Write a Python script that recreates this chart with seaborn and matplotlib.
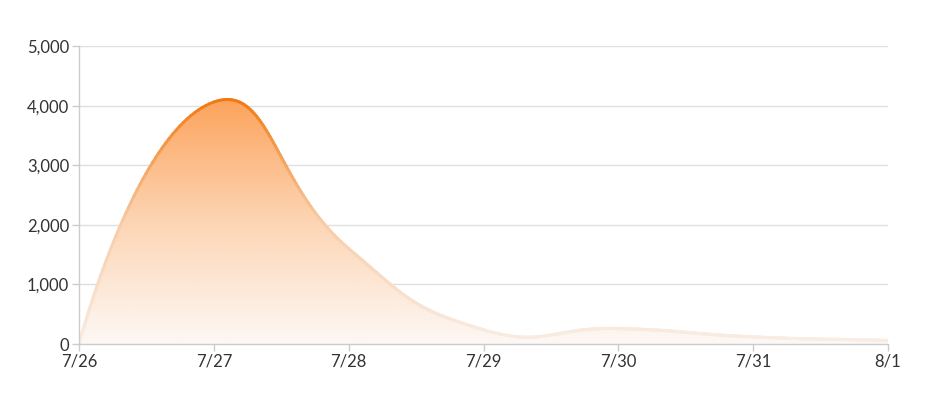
import numpy as np
import pandas as pd
import matplotlib
matplotlib.use("Agg")
import matplotlib.pyplot as plt
import seaborn as sns
from matplotlib.collections import LineCollection
from matplotlib.colors import LinearSegmentedColormap, Normalize
from matplotlib.ticker import FuncFormatter

# one value per day
day_labels = ["7/26", "7/27", "7/28", "7/29", "7/30", "7/31", "8/1"]
counts = [0, 4060, 1600, 240, 260, 120, 60]
y_ticks = [0, 1000, 2000, 3000, 4000, 5000]

Y_MAX = 5000
PX_PER_DAY = 134.8        # on-screen scale, used so the smoothing works in pixel space
PX_PER_UNIT = 298 / Y_MAX


def smooth_curve(values, smooth=0.5, n=60):
    # bezier smoothing in the style of echarts' smooth line
    px = np.arange(len(values)) * PX_PER_DAY
    py = np.asarray(values, float) * PX_PER_UNIT
    pts = np.column_stack([px, py])
    out = [pts[:1]]
    cp0 = pts[0]
    t = np.linspace(0, 1, n)[1:, None]
    for i in range(1, len(pts)):
        p = pts[i]
        prev = pts[i - 1]
        nxt = pts[i + 1] if i + 1 < len(pts) else p
        v = nxt - prev
        len_prev = np.hypot(*(p - prev))
        len_next = np.hypot(*(nxt - p))
        ratio = len_next / (len_next + len_prev)
        cp1 = p - v * smooth * (1 - ratio)
        seg = ((1 - t) ** 3 * prev + 3 * (1 - t) ** 2 * t * cp0
               + 3 * (1 - t) * t ** 2 * cp1 + t ** 3 * p)
        out.append(seg)
        cp0 = p + v * smooth * ratio
    curve = np.vstack(out)
    return curve[:, 0] / PX_PER_DAY, np.clip(curve[:, 1] / PX_PER_UNIT, 0, None)


sx, sy = smooth_curve(counts)
df = pd.DataFrame({"day": sx, "count": sy})

sns.set_theme(style="white")
plt.rcParams["font.family"] = ["Lato", "DejaVu Sans"]

fig = plt.figure(figsize=(9.5, 4.04), dpi=100)
ax = fig.add_axes([0.0832, 0.1485, 0.8515, 0.7375])

# gradient area
fill = ax.fill_between(df["day"], df["count"], 0, color="none", lw=0)
peak = df["count"].max()
fill_cmap = LinearSegmentedColormap.from_list("fill", ["#fdf8f5", "#fdd5b4", "#fca35c"])
grad = np.linspace(0, 1, 256).reshape(-1, 1)
img = ax.imshow(grad, cmap=fill_cmap, origin="lower", aspect="auto",
                extent=[0, 6, 0, peak], zorder=2)
img.set_clip_path(fill.get_paths()[0], transform=ax.transData)

# line, coloured by value
sns.lineplot(data=df, x="day", y="count", ax=ax, color="#f8ece2", lw=2,
             sort=False, zorder=3)
line_cmap = LinearSegmentedColormap.from_list("line", ["#f8eee6", "#f8cba4", "#f07a12"])
pts = np.column_stack([df["day"], df["count"]]).reshape(-1, 1, 2)
segs = np.concatenate([pts[:-1], pts[1:]], axis=1)
lc = LineCollection(segs, cmap=line_cmap, norm=Normalize(0, peak), lw=2.2,
                    capstyle="round", zorder=4)
lc.set_array((df["count"].values[:-1] + df["count"].values[1:]) / 2)
ax.add_collection(lc)

ax.set_xlim(0, 6)
ax.set_ylim(0, Y_MAX)
ax.set_xticks(range(len(day_labels)))
ax.set_xticklabels(day_labels)
ax.set_yticks(y_ticks)
ax.yaxis.set_major_formatter(FuncFormatter(lambda v, _: f"{int(v):,}"))
ax.set_xlabel("")
ax.set_ylabel("")

ax.grid(axis="y", color="#e0e0e0", lw=1)
ax.set_axisbelow(True)
for side in ["top", "right"]:
    ax.spines[side].set_visible(False)
for side in ["left", "bottom"]:
    ax.spines[side].set_color("#cccccc")
    ax.spines[side].set_linewidth(1)
    ax.spines[side].set_zorder(5)
ax.tick_params(axis="both", direction="out", length=5, width=1, color="#cccccc",
               labelcolor="#333333", labelsize=12, pad=2)
ax.tick_params(axis="x", bottom=True)
ax.tick_params(axis="y", left=True)

fig.savefig("out.png", dpi=100, facecolor="white")
